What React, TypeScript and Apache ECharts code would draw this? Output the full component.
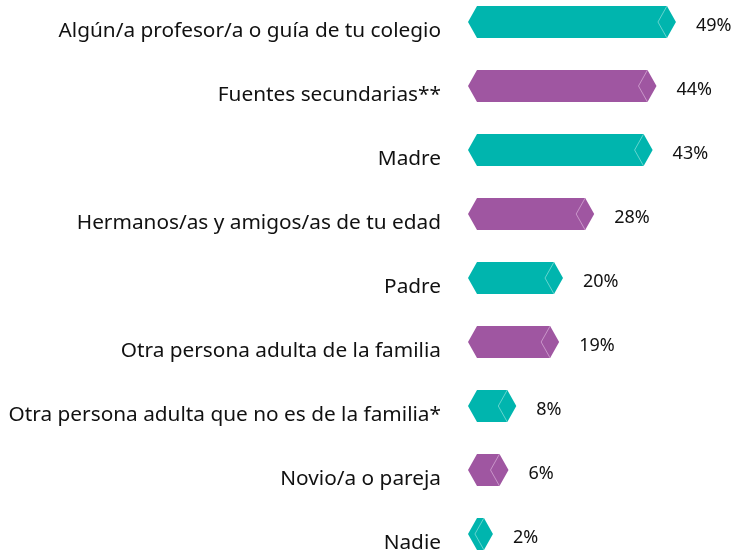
import React, { useEffect, useRef } from "react";
import * as echarts from "echarts";

const categories = [
  "Algún/a profesor/a o guía de tu colegio",
  "Fuentes secundarias**",
  "Madre",
  "Hermanos/as y amigos/as de tu edad",
  "Padre",
  "Otra persona adulta de la familia",
  "Otra persona adulta que no es de la familia*",
  "Novio/a o pareja",
  "Nadie",
];
const values = [49, 44, 43, 28, 20, 19, 8, 6, 2];

const TEAL = "#00b5ae";
const TEAL_LIGHT = "#7fdcd7";
const PURPLE = "#9f56a1";
const PURPLE_LIGHT = "#d3a6d3";
const X_MIN = -4.4;
const X_MAX = 60;
const FONT = "Noto Sans";

export default function App() {
  const ref = useRef<HTMLDivElement>(null);
  useEffect(() => {
    if (!ref.current) return;
    const chart = echarts.init(ref.current, null, { renderer: "svg" });
    const data = values.map((v, i) => [v, i]);
    chart.setOption({
      animation: false,
      grid: { left: 468, top: 0, width: 250.8, height: 576 },
      xAxis: {
        type: "value",
        min: X_MIN,
        max: X_MAX,
        show: false,
      },
      yAxis: {
        type: "category",
        inverse: true,
        data: categories,
        axisLine: { show: false },
        axisTick: { show: false },
        splitLine: { show: false },
        axisLabel: {
          fontFamily: FONT,
          fontSize: 20.8,
          color: "#111",
          margin: 27,
          verticalAlign: "top",
          lineHeight: 14,
        },
      },
      series: [
        {
          type: "custom",
          encode: { x: 0, y: 1 },
          data,
          renderItem: (params: any, api: any) => {
            const v = api.value(0);
            const idx = api.value(1);
            const end = api.coord([v, idx]);
            const start = api.coord([X_MIN, idx]);
            const band = api.size([0, 1])[1];
            const h = band * 0.25;
            const L = start[0];
            const R = end[0];
            const cy = end[1];
            const p = 9;
            const isTeal = idx % 2 === 0;
            const fill = isTeal ? TEAL : PURPLE;
            const light = isTeal ? TEAL_LIGHT : PURPLE_LIGHT;
            return {
              type: "group",
              children: [
                {
                  type: "polygon",
                  shape: {
                    points: [
                      [L, cy],
                      [L + p, cy - h],
                      [R - p, cy - h],
                      [R, cy],
                      [R - p, cy + h],
                      [L + p, cy + h],
                    ],
                  },
                  style: { fill },
                },
                {
                  type: "polyline",
                  shape: {
                    points: [
                      [R - p, cy - h],
                      [R - 2 * p, cy],
                      [R - p, cy + h],
                    ],
                  },
                  style: { stroke: light, lineWidth: 0.8, fill: "none" },
                },
                {
                  type: "text",
                  x: R + 20,
                  y: cy + 2,
                  style: {
                    text: v + "%",
                    fontFamily: FONT,
                    fontSize: 18,
                    fill: "#111",
                    align: "left",
                    verticalAlign: "middle",
                  },
                },
              ],
            };
          },
        },
      ],
    });
    return () => chart.dispose();
  }, []);
  return <div ref={ref} style={{ width: 747, height: 576, position: "fixed", left: 0, top: -10 }} />;
}
